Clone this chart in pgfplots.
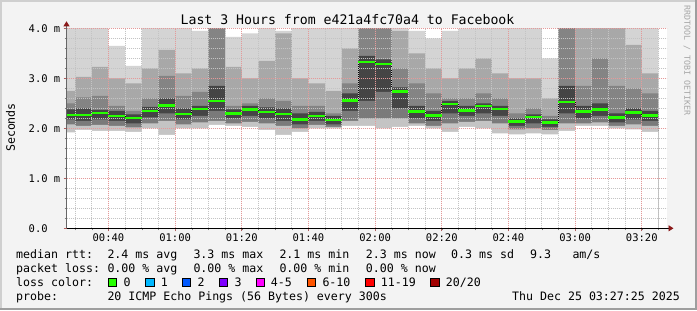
\documentclass[border=0pt]{standalone}
\usepackage{pgfplots}
\pgfplotsset{compat=1.18}
\usepackage{pgfplotstable}
\usepackage{fontspec}
\usetikzlibrary{arrows.meta}
\newfontfamily\mono{DejaVu Sans Mono}
\definecolor{bgc}{HTML}{F3F3F3}
\definecolor{framelt}{HTML}{CFCFCF}
\definecolor{framedk}{HTML}{9E9E9E}
\definecolor{majgrid}{HTML}{E59A9A}
\definecolor{mingrid}{HTML}{C4C4C4}
\definecolor{arrowred}{HTML}{8B1A1A}
\definecolor{s1}{HTML}{D4D4D4}
\definecolor{s2}{HTML}{A8A8A8}
\definecolor{s3}{HTML}{848484}
\definecolor{s4}{HTML}{454545}
\definecolor{s5}{HTML}{7A7A7A}
\definecolor{s6}{HTML}{C4C4C4}
\definecolor{medgreen}{HTML}{26FF00}
\definecolor{l0}{HTML}{26FF00}
\definecolor{l1}{HTML}{00B8FF}
\definecolor{l2}{HTML}{0059FF}
\definecolor{l3}{HTML}{7E00FF}
\definecolor{l4}{HTML}{FF00FF}
\definecolor{l5}{HTML}{FF5500}
\definecolor{l6}{HTML}{FF0000}
\definecolor{l7}{HTML}{A10000}
\newcommand\legfont{\mono\fontsize{11.6bp}{14bp}\selectfont}
\newcommand\axfont{\mono\fontsize{10.5bp}{12bp}\selectfont}

\pgfplotstableread{
x      max   a     b     c     med   d     e     min
27.42  4.1   2.75  2.5   2.38  2.27  2.18  2.08  1.92
30     4.1   3.03  2.62  2.4   2.27  2.15  2.05  1.97
35     4.1   3.23  2.65  2.37  2.31  2.18  2.07  1.95
40     3.65  3.0   2.45  2.35  2.25  2.15  2.05  1.95
45     3.25  2.9   2.35  2.28  2.21  2.1   2.02  1.93
50     4.1   3.2   2.6   2.43  2.35  2.22  2.1   2.0
55     4.1   3.57  3.05  2.6   2.46  2.3   2.15  1.87
60     4.1   3.1   2.65  2.4   2.29  2.18  2.08  2.0
65     3.95  3.2   2.73  2.45  2.39  2.25  2.12  2.0
70     4.1   4.1   4.1   2.85  2.55  2.35  2.15  2.07
75     3.83  3.23  2.45  2.38  2.30  2.2   2.1   2.05
80     3.9   3.0   2.5   2.45  2.38  2.25  2.13  2.03
85     4.1   3.35  2.6   2.42  2.33  2.2   2.1   1.97
90     3.95  3.9   2.55  2.4   2.29  2.15  2.05  1.87
95     4.1   3.0   2.45  2.3   2.18  2.08  2.0   1.93
100    4.1   2.9   2.45  2.33  2.25  2.15  2.07  2.0
105    4.1   2.75  2.3   2.25  2.17  2.08  2.03  2.0
110    4.1   3.6   2.9   2.7   2.56  2.35  2.15  2.05
115    4.1   4.1   4.1   3.45  3.33  2.55  2.2   2.05
120    4.1   4.1   4.1   3.38  3.29  2.73  2.2   2.0
125    4.1   3.95  3.2   2.82  2.74  2.4   2.2   2.03
130    3.95  3.5   2.9   2.45  2.34  2.2   2.1   2.05
135    3.8   3.2   2.7   2.35  2.26  2.15  2.05  2.0
140    3.95  3.0   2.6   2.55  2.49  2.3   2.1   1.93
145    4.0   3.2   2.6   2.45  2.36  2.25  2.13  2.03
150    4.0   3.4   2.7   2.5   2.45  2.3   2.15  2.0
155    4.1   3.1   2.6   2.45  2.39  2.25  2.1   1.9
160    4.1   3.0   2.3   2.2   2.14  2.05  1.98  1.88
165    4.1   3.0   2.4   2.28  2.23  2.1   2.0   1.9
170    3.4   2.6   2.25  2.18  2.12  2.03  1.97  1.88
175    4.1   4.1   4.1   2.85  2.53  2.3   2.1   1.95
180    4.1   4.1   2.85  2.45  2.34  2.2   2.1   2.05
185    4.1   4.1   3.4   2.5   2.38  2.25  2.12  2.05
190    4.1   4.1   2.85  2.3   2.22  2.12  2.05  2.0
195    4.1   3.67  2.8   2.4   2.32  2.18  2.08  1.98
200    4.1   3.1   2.7   2.35  2.26  2.15  2.05  1.93
205    4.1   3.1   2.7   2.35  2.26  2.15  2.05  1.93
}\smoke

\pgfplotstableread{
cx     med
32.5   2.27
37.5   2.31
42.5   2.25
47.5   2.21
52.5   2.35
57.5   2.46
62.5   2.29
67.5   2.39
72.5   2.55
77.5   2.30
82.5   2.38
87.5   2.33
92.5   2.29
97.5   2.18
102.5  2.25
107.5  2.17
112.5  2.56
117.5  3.33
122.5  3.29
127.5  2.74
132.5  2.34
137.5  2.26
142.5  2.49
147.5  2.36
152.5  2.45
157.5  2.39
162.5  2.14
167.5  2.23
172.5  2.12
177.5  2.53
182.5  2.34
187.5  2.38
192.5  2.22
197.5  2.32
202.5  2.26
}\medians

\begin{document}
\begin{tikzpicture}[x=1bp,y=1bp]
\useasboundingbox (0,0) rectangle (697,310);
\fill[bgc] (0,0) rectangle (697,310);
\fill[framelt] (0,0) rectangle (2,310);
\fill[framelt] (0,308) rectangle (697,310);
\fill[framedk] (695,0) rectangle (697,310);
\fill[framedk] (0,0) rectangle (697,2.5);

\begin{axis}[
  at={(66.5bp,81.7bp)}, anchor=south west,
  scale only axis, width=600bp, height=200bp,
  xmin=27.42, xmax=207.42, ymin=0, ymax=4,
  axis on top,
  axis background/.style={fill=white},
  axis x line=bottom, axis y line=left,
  x axis line style={black, line width=0.8bp, -{Triangle[length=5bp,width=6bp,color=arrowred]}, shorten >=-7bp},
  y axis line style={black!60, line width=0.8bp, -{Triangle[length=5bp,width=6bp,color=arrowred]}, shorten >=-7bp},
  xtick={40,60,80,100,120,140,160,180,200},
  xticklabels={00:40,01:00,01:20,01:40,02:00,02:20,02:40,03:00,03:20},
  minor xtick={30,35,...,205},
  ytick={0,1,2,3,4},
  yticklabels={0.0\hphantom{\ m},1.0 m,2.0 m,3.0 m,4.0 m},
  minor ytick={0.2,0.4,0.6,0.8,1.2,1.4,1.6,1.8,2.2,2.4,2.6,2.8,3.2,3.4,3.6,3.8},
  grid=both,
  major grid style={majgrid, dash pattern=on 1bp off 1bp, line width=0.7bp},
  minor grid style={mingrid, dash pattern=on 1bp off 1bp, line width=0.7bp},
  tick align=outside,
  major tick length=3bp, minor tick length=2bp,
  major tick style={arrowred!70, line width=0.7bp},
  minor tick style={black!50, line width=0.5bp},
  tick label style={font=\axfont, text=black},
  xticklabel style={inner sep=0pt, yshift=-2.5bp},
  yticklabel style={inner sep=0pt, anchor=east, xshift=-3bp},
]
\addplot[const plot, fill=s1, draw=none] table[x=x,y=max]{\smoke} \closedcycle;
\addplot[const plot, fill=s2, draw=none] table[x=x,y=a]{\smoke} \closedcycle;
\addplot[const plot, fill=s3, draw=none] table[x=x,y=b]{\smoke} \closedcycle;
\addplot[const plot, fill=s4, draw=none] table[x=x,y=c]{\smoke} \closedcycle;
\addplot[const plot, fill=s5, draw=none] table[x=x,y=d]{\smoke} \closedcycle;
\addplot[const plot, fill=s6, draw=none] table[x=x,y=e]{\smoke} \closedcycle;
\addplot[const plot, fill=white, draw=none] table[x=x,y=min]{\smoke} \closedcycle;
\addplot[const plot, black, line width=0.7bp, dash pattern=on 1bp off 1bp] table[x=x,y=med]{\smoke};
\addplot[only marks, mark=-, mark size=8.33bp, mark options={line width=2.6bp, draw=medgreen}] table[x=cx,y=med]{\medians};
\addplot[only marks, mark=-, mark size=4.3bp, mark options={line width=2.6bp, draw=medgreen}] coordinates {(28.71,2.27)};
\end{axis}

\node[font=\mono\fontsize{13.2bp}{15bp}\selectfont, anchor=base, inner sep=0] at (347.5,285.5) {Last 3 Hours from e421a4fc70a4 to Facebook};
\node[font=\legfont, rotate=90, inner sep=0] at (10.5,182.5) {Seconds};
\node[font=\mono\fontsize{8.3bp}{10bp}\selectfont, text=black!35, rotate=-90, anchor=west, inner sep=0] at (687,305) {RRDTOOL / TOBI OETIKER};

\begin{scope}[every node/.style={font=\legfont, anchor=base west, inner sep=0}]
\node at (16,52) {median rtt:};
\node at (107.3,52) {2.4 ms avg};
\node at (193.3,52) {3.3 ms max};
\node at (279.3,52) {2.1 ms min};
\node at (365.7,52) {2.3 ms now};
\node at (451,52) {0.3 ms sd};
\node at (530,52) {9.3};
\node at (572.3,52) {am/s};
\node at (16,38) {packet loss:};
\node at (107.3,38) {0.00 \% avg};
\node at (193.3,38) {0.00 \% max};
\node at (279.3,38) {0.00 \% min};
\node at (365.7,38) {0.00 \% now};
\node at (16,24) {loss color:};
\node at (123.3,24) {0};
\node at (160.7,24) {1};
\node at (197.3,24) {2};
\node at (234.3,24) {3};
\node at (270.7,24) {4-5};
\node at (322.3,24) {6-10};
\node at (380.7,24) {11-19};
\node at (445.7,24) {20/20};
\node at (16,10) {probe:};
\node at (107.3,10) {20 ICMP Echo Pings (56 Bytes) every 300s};
\node[anchor=base east] at (680,10) {Thu Dec 25 03:27:25 2025};
\end{scope}
\foreach \bx/\cl in {108.3/l0,145.7/l1,182.3/l2,219.3/l3,256/l4,307.3/l5,365.7/l6,430.7/l7}{
  \filldraw[fill=\cl, draw=black, line width=0.8bp] (\bx,23.5) rectangle ++(8.5,8.5);
}
\end{tikzpicture}
\end{document}
